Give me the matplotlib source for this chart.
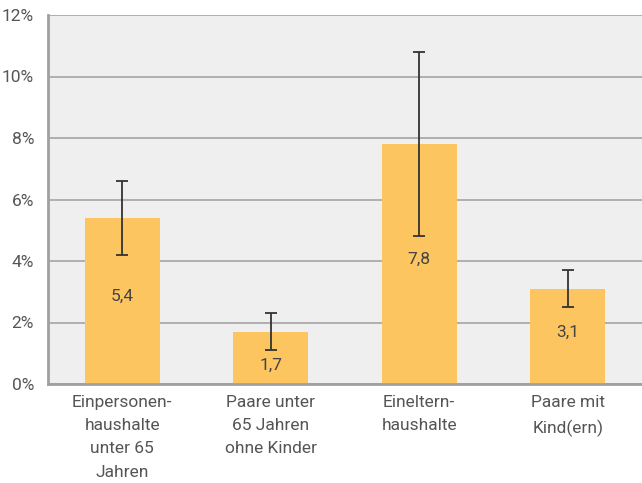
import matplotlib
matplotlib.use("Agg")
import matplotlib.pyplot as plt
from matplotlib.ticker import FuncFormatter

categories = ["Einpersonen-\nhaushalte\nunter 65\nJahren",
              "Paare unter\n65 Jahren\nohne Kinder",
              "Eineltern-\nhaushalte",
              "Paare mit\nKind(ern)"]
values = [5.4, 1.7, 7.8, 3.1]
errors = [1.2, 0.6, 3.0, 0.6]
yticks = [0, 2, 4, 6, 8, 10, 12]

plt.rcParams['font.family'] = ['Roboto', 'DejaVu Sans']
fig = plt.figure(figsize=(6.42, 4.83), dpi=100)
ax = fig.add_axes([48/642, 1-384/483, 1-48/642, (384-15)/483])
ax.set_facecolor('#efefef')

x = list(range(len(categories)))
ax.bar(x, values, width=0.505, color='#fdc560', zorder=2)
ax.errorbar(x, values, yerr=errors, fmt='none', ecolor='#333333',
            elinewidth=1.3, capsize=4.5, capthick=1.3, zorder=3)

for xi, v, e in zip(x, values, errors):
    lab = f"{v:.1f}".replace('.', ',')
    mid = v / 2
    if mid + 0.45 > v - e:
        ax.annotate(lab, (xi, v - e), xytext=(0, -11), textcoords='offset points',
                    ha='center', va='center', fontsize=12.5, color='#444444',
                    zorder=4)
    else:
        ax.text(xi, mid, lab, ha='center', va='baseline', fontsize=12.5,
                color='#444444', zorder=4)

ax.set_xlim(-0.5, len(categories) - 0.5)
ax.set_ylim(0, 12)
ax.set_yticks(yticks)
ax.yaxis.set_major_formatter(FuncFormatter(lambda v, p: f"{int(v)}%"))
ax.grid(axis='y', color='#aaaaaa', linewidth=1.3, zorder=1)
ax.set_axisbelow(True)
ax.set_xticks(x)
ax.set_xticklabels(categories, linespacing=1.68)
ax.tick_params(axis='both', length=0, labelsize=12.5, labelcolor='#555555')
ax.tick_params(axis='y', pad=10)
ax.tick_params(axis='x', pad=8)

for s in ['top', 'right']:
    ax.spines[s].set_visible(False)
for s in ['left', 'bottom']:
    ax.spines[s].set_color('#a0a0a0')
    ax.spines[s].set_linewidth(2)

fig.savefig('out.png', dpi=100, facecolor='white')
